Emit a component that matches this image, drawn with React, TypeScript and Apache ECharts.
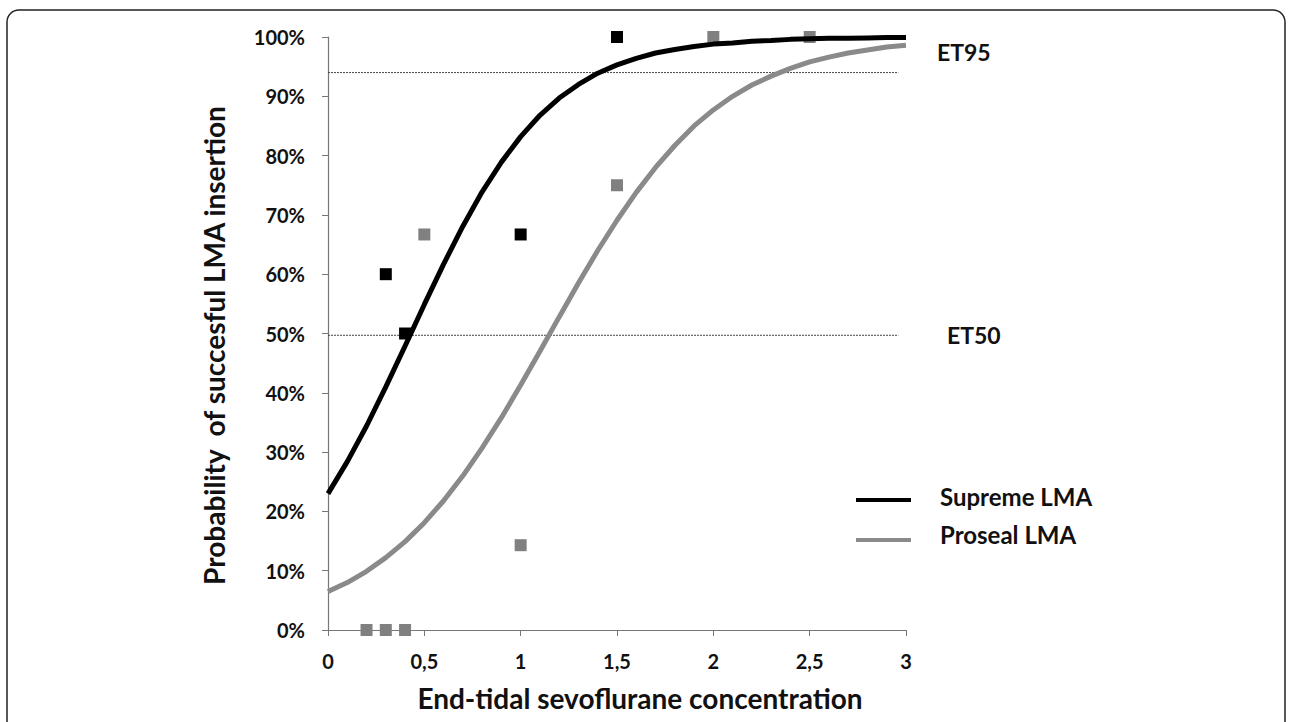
import React, { useEffect, useRef } from "react";
import * as echarts from "echarts";

const xTicks = [0, 0.5, 1, 1.5, 2, 2.5, 3];
const curveX = [0, 0.1, 0.2, 0.3, 0.4, 0.5, 0.6, 0.7, 0.8, 0.9, 1.0, 1.1, 1.2, 1.3, 1.4, 1.5, 1.6, 1.7, 1.8, 1.9, 2.0, 2.1, 2.2, 2.3, 2.4, 2.5, 2.6, 2.7, 2.8, 2.9, 3.0];
const supremeCurve = [23.0, 28.4, 34.4, 41.0, 47.9, 54.9, 61.7, 68.1, 73.9, 78.9, 83.2, 86.8, 89.7, 92.0, 93.9, 95.3, 96.4, 97.3, 97.9, 98.4, 98.8, 99.0, 99.3, 99.4, 99.6, 99.7, 99.8, 99.8, 99.85, 99.9, 99.9];
const prosealCurve = [6.5, 8.0, 9.9, 12.2, 14.9, 18.1, 21.8, 26.0, 30.7, 35.8, 41.3, 47.0, 52.8, 58.5, 64.0, 69.1, 73.8, 78.0, 81.7, 85.0, 87.7, 90.0, 91.9, 93.4, 94.7, 95.8, 96.6, 97.3, 97.8, 98.3, 98.6];
const supremeObsX = [0.3, 0.4, 1, 1.5];
const supremeObsY = [60, 50, 66.7, 100];
const prosealObsX = [0.2, 0.3, 0.4, 0.5, 1, 1.5, 2, 2.5];
const prosealObsY = [0, 0, 0, 66.7, 14.3, 75, 100, 100];
const et95 = 94;
const et50 = 49.7;
const refLineX = [0, 2.96];

const FONT = "Lato";

export default function App() {
  const ref = useRef<HTMLDivElement>(null);
  useEffect(() => {
    if (!ref.current) return;
    const chart = echarts.init(ref.current, null, { renderer: "svg" });
    const zip = (xs: number[], ys: number[]) => xs.map((x, i) => [x, ys[i]]);
    const txt = (text: string, x: number, y: number, size: number) => ({
      type: "text",
      x,
      y,
      style: { text, fontFamily: FONT, fontWeight: "bold", fontSize: size, fill: "#111", verticalAlign: "middle" },
    });
    chart.setOption({
      animation: false,
      backgroundColor: "#ffffff",
      grid: { left: 328, right: 386, top: 37, bottom: 92 },
      xAxis: {
        type: "value",
        min: 0,
        max: 3,
        interval: 0.5,
        name: "End-tidal sevoflurane concentration",
        nameLocation: "middle",
        nameGap: 54,
        nameTextStyle: { fontFamily: FONT, fontWeight: "bold", fontSize: 28, color: "#111", padding: [0, 0, 0, 46] },
        axisLine: { lineStyle: { color: "#777", width: 1.2 } },
        axisTick: { show: true, length: 6, inside: false, lineStyle: { color: "#777" } },
        axisLabel: {
          margin: 21,
          fontFamily: FONT,
          fontWeight: "bold",
          fontSize: 20,
          color: "#111",
          formatter: (v: number) => String(v).replace(".", ","),
        },
        splitLine: { show: false },
      },
      yAxis: {
        type: "value",
        min: 0,
        max: 100,
        interval: 10,
        name: "Probability  of succesful LMA insertion",
        nameLocation: "middle",
        nameGap: 100,
        nameTextStyle: { fontFamily: FONT, fontWeight: "bold", fontSize: 28, color: "#111", padding: [0, 24, 0, 0] },
        axisLine: { show: true, lineStyle: { color: "#777", width: 1.2 } },
        axisTick: { show: true, length: 6, inside: false, lineStyle: { color: "#777" } },
        axisLabel: {
          margin: 23,
          fontFamily: FONT,
          fontWeight: "bold",
          fontSize: 20,
          color: "#111",
          formatter: "{value}%",
        },
        splitLine: { show: false },
      },
      series: [
        {
          name: "ET95",
          type: "line",
          data: zip(refLineX, [et95, et95]),
          symbol: "none",
          lineStyle: { color: "#444", width: 1, type: [2, 1] },
          z: 1,
        },
        {
          name: "ET50",
          type: "line",
          data: zip(refLineX, [et50, et50]),
          symbol: "none",
          lineStyle: { color: "#444", width: 1, type: [2, 1] },
          z: 1,
        },
        {
          name: "Proseal LMA",
          type: "line",
          data: zip(curveX, prosealCurve),
          symbol: "none",
          lineStyle: { color: "#8a8a8a", width: 5 },
          z: 2,
        },
        {
          name: "Supreme LMA",
          type: "line",
          data: zip(curveX, supremeCurve),
          symbol: "none",
          lineStyle: { color: "#000", width: 5 },
          z: 3,
        },
        {
          name: "Proseal obs",
          type: "scatter",
          data: zip(prosealObsX, prosealObsY),
          symbol: "rect",
          symbolSize: 12,
          itemStyle: { color: "#808080", opacity: 1 },
          z: 2,
        },
        {
          name: "Supreme obs",
          type: "scatter",
          data: zip(supremeObsX, supremeObsY),
          symbol: "rect",
          symbolSize: 12,
          itemStyle: { color: "#000", opacity: 1 },
          z: 4,
        },
      ],
      graphic: [
        {
          type: "rect",
          shape: { x: 7, y: 10, width: 1278, height: 740, r: 12 },
          style: { fill: "none", stroke: "#222", lineWidth: 1.5 },
          silent: true,
        },
        txt("ET95", 937, 52, 23),
        txt("ET50", 947, 335, 23),
        {
          type: "line",
          shape: { x1: 856, y1: 500, x2: 911, y2: 500 },
          style: { stroke: "#000", lineWidth: 4 },
        },
        {
          type: "line",
          shape: { x1: 856, y1: 540, x2: 911, y2: 540 },
          style: { stroke: "#8a8a8a", lineWidth: 4 },
        },
        txt("Supreme LMA", 940, 496, 24),
        txt("Proseal LMA", 940, 534, 24),
      ],
    });
    return () => chart.dispose();
  }, []);
  return (
    <div
      ref={ref}
      style={{ position: "fixed", left: 0, top: 0, width: 1292, height: 722 }}
    />
  );
}
